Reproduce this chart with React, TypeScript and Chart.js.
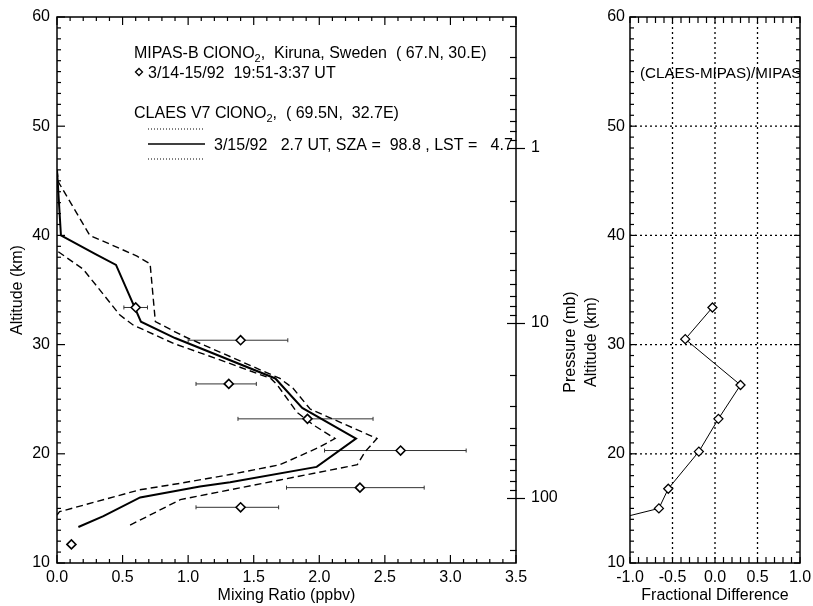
import React, { useEffect, useRef } from "react";
import { Chart, registerables } from "chart.js";
Chart.register(...registerables);

const FONT = "'Liberation Sans', Arial, Helvetica, sans-serif";

// ---------------- data ----------------
// MIPAS-B ClONO2 (diamonds with horizontal error bars)
const mipasAlt = [11.7, 15.1, 16.9, 20.3, 23.2, 26.4, 30.4, 33.4];
const mipasVmr = [0.11, 1.4, 2.31, 2.62, 1.91, 1.31, 1.4, 0.6];
const mipasErrLow = [0.11, 1.06, 1.75, 2.04, 1.38, 1.06, 1.0, 0.51];
const mipasErrHigh = [0.11, 1.69, 2.8, 3.12, 2.41, 1.52, 1.76, 0.69];

// CLAES V7 ClONO2 profile (solid)
const claesAlt = [46, 40, 38.3, 37.3, 32.1, 30.6, 26.9, 24.2, 22.0, 21.4, 18.8, 17.4, 17.0, 16.0, 14.3, 13.3];
const claesVmr = [0.0, 0.03, 0.29, 0.45, 0.64, 0.9, 1.665, 1.87, 2.19, 2.28, 1.98, 1.32, 1.09, 0.634, 0.354, 0.163];

// CLAES upper bound (dashed)
const claesMaxAlt = [46, 44.9, 40, 38.9, 38.1, 37.4, 32.1, 30.8, 26.9, 26.0, 24.1, 21.4, 20.2, 19.0, 17.6, 15.8, 13.3];
const claesMaxVmr = [0.0, 0.01, 0.25, 0.46, 0.61, 0.71, 0.75, 0.96, 1.7, 1.8, 1.93, 2.44, 2.35, 2.29, 1.7, 0.94, 0.53];

// CLAES lower bound (dashed)
const claesMinAlt = [38.5, 36.9, 33.9, 32.7, 31.8, 30.1, 28.7, 26.9, 26.3, 23.8, 22.6, 21.4, 20.6, 19.0, 18.1, 17.3, 16.7, 14.7, 14.4];
const claesMinVmr = [0.01, 0.2, 0.4, 0.48, 0.58, 0.89, 1.22, 1.63, 1.68, 1.83, 1.96, 2.12, 2.0, 1.7, 1.32, 0.94, 0.63, 0.02, 0.0];

// (CLAES-MIPAS)/MIPAS
const fracAlt = [33.4, 30.5, 26.3, 23.2, 20.2, 16.8, 15.0, 11.7];
const fracDiff = [-0.03, -0.35, 0.3, 0.04, -0.19, -0.55, -0.66, -2.36];

// ---------------- axes / ticks ----------------
const mixLabels = [0, 0.5, 1.0, 1.5, 2.0, 2.5, 3.0, 3.5];
const altLabels = [10, 20, 30, 40, 50, 60];
const pressureLabels = [1, 10, 100];
const fracLabels = [-1.0, -0.5, 0.0, 0.5, 1.0];
const fracGridX = [-0.5, 0.0, 0.5];
const fracGridY = [20, 30, 40, 50];
const pressureTop = 0.178;
const pressureBottom = 237;

function range(a: number, b: number, step: number) {
  const out: number[] = [];
  const n = Math.round((b - a) / step);
  for (let i = 0; i <= n; i++) out.push(+(a + i * step).toFixed(6));
  return out;
}
const mixTicks = range(0, 3.5, 0.1);
const altTicks = range(10, 60, 1);
const fracTicks = range(-1, 1, 0.1);
const pressureTicks: number[] = [];
[0.1, 1, 10, 100].forEach((d) => {
  for (let k = 1; k <= 9; k++) {
    const v = +(d * k).toPrecision(6);
    if (v >= pressureTop && v <= pressureBottom) pressureTicks.push(v);
  }
});

const isIn = (arr: number[], v: number) => arr.some((a) => Math.abs(a - v) < 1e-6);

function pts(xs: number[], ys: number[]) {
  return xs.map((x, i) => ({ x, y: ys[i] }));
}

function seg(ctx: CanvasRenderingContext2D, x1: number, y1: number, x2: number, y2: number) {
  ctx.beginPath();
  ctx.moveTo(x1, y1);
  ctx.lineTo(x2, y2);
  ctx.stroke();
}

function rich(ctx: CanvasRenderingContext2D, parts: [string, boolean][], x: number, y: number, size: number) {
  let cx = x;
  for (const [t, sub] of parts) {
    ctx.font = `${sub ? Math.round(size * 0.68) : size}px ${FONT}`;
    ctx.fillText(t, cx, sub ? y + size * 0.28 : y);
    cx += ctx.measureText(t).width;
  }
}

function fixScale(width?: number, height?: number) {
  return (s: any) => {
    if (width !== undefined) s.width = width;
    if (height !== undefined) s.height = height;
    s.paddingLeft = 0;
    s.paddingRight = 0;
    s.paddingTop = 0;
    s.paddingBottom = 0;
  };
}

const tickFont = { family: FONT, size: 16 };

// ---------------- left panel ----------------
function leftConfig(): any {
  const plugin = {
    id: "leftDecor",
    beforeDatasetsDraw(chart: any) {
      const { ctx } = chart;
      const xs = chart.scales.x;
      const ys = chart.scales.y;
      ctx.save();
      ctx.strokeStyle = "#333";
      ctx.lineWidth = 1;
      for (let i = 0; i < mipasAlt.length; i++) {
        if (mipasErrHigh[i] <= mipasErrLow[i]) continue;
        const y = ys.getPixelForValue(mipasAlt[i]);
        const x1 = xs.getPixelForValue(mipasErrLow[i]);
        const x2 = xs.getPixelForValue(mipasErrHigh[i]);
        seg(ctx, x1, y, x2, y);
        seg(ctx, x1, y - 2, x1, y + 2);
        seg(ctx, x2, y - 2, x2, y + 2);
      }
      ctx.restore();
    },
    afterDraw(chart: any) {
      const { ctx, chartArea: a } = chart;
      const xs = chart.scales.x;
      const ys = chart.scales.y;
      const ps = chart.scales.p;
      ctx.save();
      ctx.strokeStyle = "#000";
      ctx.lineWidth = 1.5;
      ctx.strokeRect(a.left, a.top, a.right - a.left, a.bottom - a.top);
      ctx.lineWidth = 1.2;
      for (const t of xs.ticks) {
        const x = xs.getPixelForValue(t.value);
        const len = isIn(mixLabels, t.value) ? 8 : 4;
        seg(ctx, x, a.bottom, x, a.bottom - len);
        seg(ctx, x, a.top, x, a.top + len);
      }
      for (const t of ys.ticks) {
        const y = ys.getPixelForValue(t.value);
        const len = isIn(altLabels, t.value) ? 8 : 4;
        seg(ctx, a.left, y, a.left + len, y);
      }
      for (const v of pressureTicks) {
        const y = Math.round(ps.getPixelForValue(v)) + 0.5;
        if (isIn(pressureLabels, v)) seg(ctx, a.right - 9, y, a.right + 9, y);
        else seg(ctx, a.right - 6, y, a.right + 0.5, y);
      }
      // axis titles
      ctx.fillStyle = "#000";
      ctx.font = `16px ${FONT}`;
      ctx.textAlign = "center";
      ctx.textBaseline = "middle";
      ctx.fillText("Mixing Ratio (ppbv)", (a.left + a.right) / 2, a.bottom + 33);
      ctx.save();
      ctx.translate(a.left - 39, (a.top + a.bottom) / 2);
      ctx.rotate(-Math.PI / 2);
      ctx.fillText("Altitude (km)", 0, 0);
      ctx.restore();
      ctx.save();
      ctx.translate(a.right + 55, 342);
      ctx.rotate(-Math.PI / 2);
      ctx.fillText("Pressure (mb)", 0, 0);
      ctx.restore();
      // legend block
      ctx.textAlign = "left";
      ctx.textBaseline = "alphabetic";
      const L = a.left + 77;
      rich(ctx, [["MIPAS-B ClONO", false], ["2", true], [",  Kiruna, Sweden  ( 67.N, 30.E)", false]], L, 58, 16);
      ctx.lineWidth = 1.3;
      ctx.beginPath();
      const dx = L + 5, dy = 72;
      ctx.moveTo(dx - 3.5, dy);
      ctx.lineTo(dx, dy - 3.5);
      ctx.lineTo(dx + 3.5, dy);
      ctx.lineTo(dx, dy + 3.5);
      ctx.closePath();
      ctx.stroke();
      ctx.font = `16px ${FONT}`;
      ctx.fillText("3/14-15/92  19:51-3:37 UT", L + 14, 78);
      rich(ctx, [["CLAES V7 ClONO", false], ["2", true], [",  ( 69.5N,  32.7E)", false]], L, 118, 16);
      ctx.lineWidth = 1;
      ctx.setLineDash([1, 2]);
      seg(ctx, L + 14, 129, L + 71, 129);
      seg(ctx, L + 14, 159, L + 71, 159);
      ctx.setLineDash([]);
      ctx.lineWidth = 1.5;
      seg(ctx, L + 14, 144, L + 71, 144);
      ctx.font = `16px ${FONT}`;
      ctx.fillText("3/15/92   2.7 UT, SZA =  98.8 , LST =   4.7", L + 80, 150);
      ctx.restore();
    },
  };

  return {
    type: "line",
    data: {
      datasets: [
        {
          data: pts(mipasVmr, mipasAlt),
          showLine: false,
          pointStyle: "rectRot",
          pointRadius: 4.5,
          pointBorderWidth: 1.6,
          pointBackgroundColor: "#fff",
          pointBorderColor: "#000",
          xAxisID: "x",
          yAxisID: "y",
        },
        {
          data: pts(claesVmr, claesAlt),
          borderColor: "#000",
          borderWidth: 2,
          pointRadius: 0,
          fill: false,
          xAxisID: "x",
          yAxisID: "y",
        },
        {
          data: pts(claesMaxVmr, claesMaxAlt),
          borderColor: "#000",
          borderWidth: 1.4,
          borderDash: [7, 4],
          pointRadius: 0,
          fill: false,
          xAxisID: "x",
          yAxisID: "y",
        },
        {
          data: pts(claesMinVmr, claesMinAlt),
          borderColor: "#000",
          borderWidth: 1.4,
          borderDash: [7, 4],
          pointRadius: 0,
          fill: false,
          xAxisID: "x",
          yAxisID: "y",
        },
      ],
    },
    options: {
      responsive: false,
      animation: false,
      events: [],
      layout: { padding: { top: 17, left: 0, right: 0, bottom: 0 } },
      plugins: { legend: { display: false }, tooltip: { enabled: false } },
      scales: {
        x: {
          type: "linear",
          position: "bottom",
          min: 0,
          max: 3.5,
          grid: { display: false, drawTicks: false },
          border: { display: false },
          afterBuildTicks: (s: any) => {
            s.ticks = mixTicks.map((v) => ({ value: v }));
          },
          afterFit: fixScale(undefined, 43),
          ticks: {
            autoSkip: false,
            maxRotation: 0,
            padding: 5,
            color: "#000",
            font: tickFont,
            callback: (v: any) => (isIn(mixLabels, v) ? Number(v).toFixed(1) : ""),
          },
        },
        y: {
          type: "linear",
          position: "left",
          min: 10,
          max: 60,
          grid: { display: false, drawTicks: false },
          border: { display: false },
          afterBuildTicks: (s: any) => {
            s.ticks = altTicks.map((v) => ({ value: v }));
          },
          afterFit: fixScale(57, undefined),
          ticks: {
            autoSkip: false,
            padding: 7,
            color: "#000",
            font: tickFont,
            callback: (v: any) => (isIn(altLabels, v) ? String(v) : ""),
          },
        },
        p: {
          type: "logarithmic",
          position: "right",
          min: pressureTop,
          max: pressureBottom,
          reverse: true,
          grid: { display: false, drawTicks: false },
          border: { display: false },
          afterBuildTicks: (s: any) => {
            s.ticks = pressureTicks.map((v) => ({ value: v }));
          },
          afterFit: fixScale(582 - 516, undefined),
          ticks: {
            autoSkip: false,
            padding: 15,
            color: "#000",
            font: tickFont,
            callback: (v: any) => (isIn(pressureLabels, v) ? String(v) : ""),
          },
        },
      },
    },
    plugins: [plugin],
  };
}

// ---------------- right panel ----------------
function rightConfig(): any {
  const plugin = {
    id: "rightDecor",
    beforeDatasetsDraw(chart: any) {
      const { ctx, chartArea: a } = chart;
      const xs = chart.scales.x;
      const ys = chart.scales.y;
      ctx.save();
      ctx.strokeStyle = "#000";
      ctx.lineWidth = 1.3;
      ctx.setLineDash([2, 3]);
      for (const v of fracGridX) {
        const x = xs.getPixelForValue(v);
        seg(ctx, x, a.top, x, a.bottom);
      }
      for (const v of fracGridY) {
        const y = ys.getPixelForValue(v);
        seg(ctx, a.left, y, a.right, y);
      }
      ctx.restore();
    },
    afterDraw(chart: any) {
      const { ctx, chartArea: a } = chart;
      const xs = chart.scales.x;
      const ys = chart.scales.y;
      ctx.save();
      ctx.strokeStyle = "#000";
      ctx.lineWidth = 1.5;
      ctx.strokeRect(a.left, a.top, a.right - a.left, a.bottom - a.top);
      ctx.lineWidth = 1.2;
      for (const t of xs.ticks) {
        const x = xs.getPixelForValue(t.value);
        seg(ctx, x, a.bottom, x, a.bottom - 6);
        seg(ctx, x, a.top, x, a.top + 6);
      }
      for (const t of ys.ticks) {
        const y = ys.getPixelForValue(t.value);
        const len = isIn(altLabels, t.value) ? 6 : 4;
        seg(ctx, a.left, y, a.left + len, y);
        seg(ctx, a.right, y, a.right - len, y);
      }
      ctx.fillStyle = "#000";
      ctx.font = `16px ${FONT}`;
      ctx.textAlign = "center";
      ctx.textBaseline = "middle";
      ctx.fillText("Fractional Difference", (a.left + a.right) / 2, a.bottom + 33);
      ctx.save();
      ctx.translate(a.left - 38, 342);
      ctx.rotate(-Math.PI / 2);
      ctx.fillText("Altitude (km)", 0, 0);
      ctx.restore();
      // annotation, clipped by the frame
      ctx.save();
      ctx.beginPath();
      ctx.rect(a.left, a.top, a.right - a.left, a.bottom - a.top);
      ctx.clip();
      ctx.textAlign = "left";
      ctx.font = `15.2px ${FONT}`;
      ctx.fillText("(CLAES-MIPAS)/MIPAS", a.left + 10, 74);
      ctx.restore();
      ctx.restore();
    },
  };

  return {
    type: "line",
    data: {
      datasets: [
        {
          data: pts(fracDiff, fracAlt),
          borderColor: "#000",
          borderWidth: 1,
          pointStyle: "rectRot",
          pointRadius: fracAlt.map((_, i) => (i === fracAlt.length - 1 ? 0 : 4.5)),
          pointBorderWidth: 1.3,
          pointBackgroundColor: "#fff",
          pointBorderColor: "#000",
          fill: false,
        },
      ],
    },
    options: {
      responsive: false,
      animation: false,
      events: [],
      layout: { padding: { top: 17, left: 0, right: 13, bottom: 0 } },
      plugins: { legend: { display: false }, tooltip: { enabled: false } },
      scales: {
        x: {
          type: "linear",
          position: "bottom",
          min: -1,
          max: 1,
          grid: { display: false, drawTicks: false },
          border: { display: false },
          afterBuildTicks: (s: any) => {
            s.ticks = fracTicks.map((v) => ({ value: v }));
          },
          afterFit: fixScale(undefined, 43),
          ticks: {
            autoSkip: false,
            maxRotation: 0,
            padding: 5,
            color: "#000",
            font: tickFont,
            callback: (v: any) => (isIn(fracLabels, v) ? Number(v).toFixed(1) : ""),
          },
        },
        y: {
          type: "linear",
          position: "left",
          min: 10,
          max: 60,
          grid: { display: false, drawTicks: false },
          border: { display: false },
          afterBuildTicks: (s: any) => {
            s.ticks = altTicks.map((v) => ({ value: v }));
          },
          afterFit: fixScale(48, undefined),
          ticks: {
            autoSkip: false,
            padding: 5,
            color: "#000",
            font: tickFont,
            callback: (v: any) => (isIn(altLabels, v) ? String(v) : ""),
          },
        },
      },
    },
    plugins: [plugin],
  };
}

export default function App() {
  const lRef = useRef<HTMLCanvasElement>(null);
  const rRef = useRef<HTMLCanvasElement>(null);
  useEffect(() => {
    const c1 = new Chart(lRef.current as HTMLCanvasElement, leftConfig());
    const c2 = new Chart(rRef.current as HTMLCanvasElement, rightConfig());
    return () => {
      c1.destroy();
      c2.destroy();
    };
  }, []);
  return (
    <div style={{ position: "fixed", left: 0, top: 0, width: 813, height: 606, background: "#fff" }}>
      <canvas
        ref={lRef}
        width={582}
        height={606}
        style={{ position: "absolute", left: 0, top: 0, width: 582, height: 606 }}
      />
      <canvas
        ref={rRef}
        width={231}
        height={606}
        style={{ position: "absolute", left: 582, top: 0, width: 231, height: 606 }}
      />
    </div>
  );
}
